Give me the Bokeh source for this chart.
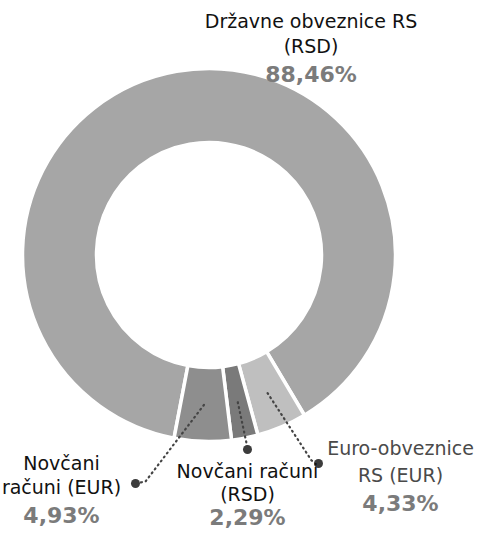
import math
from bokeh.plotting import figure
from bokeh.models import Range1d, ColumnDataSource
from bokeh.core.properties import value
from bokeh.embed import file_html
from bokeh.resources import INLINE

# ---------------- data ----------------
categories = ["Državne obveznice RS\n(RSD)", "Euro-obveznice\nRS (EUR)",
              "Novčani računi\n(RSD)", "Novčani\nračuni (EUR)"]
shares = [88.46, 4.33, 2.29, 4.93]
share_labels = ["88,46%", "4,33%", "2,29%", "4,93%"]
colors = ["#a6a6a6", "#bfbfbf", "#7a7a7a", "#8e8e8e"]
label_colors = ["#111111", "#4a4a4a", "#111111", "#111111"]

# ---------------- layout (window pixel coords, y down) ----------------
W, H = 478, 532
CX, CY = 216.5, 262.5
R_OUT, R_IN = 185.0, 114.0
START_DEG = 259.2  # start angle, going clockwise

def Y(y_img):
    return 548 - y_img

p = figure(width=W, height=H, output_backend="svg", toolbar_location=None,
           x_range=Range1d(8, 8 + W), y_range=Range1d(8, 8 + H),
           min_border=0, outline_line_color=None)
p.axis.visible = False
p.grid.visible = False
p.background_fill_color = "white"
p.border_fill_color = "white"

total = sum(shares)
starts, ends, mids = [], [], []
a = START_DEG
for s in shares:
    span = s / total * 360.0
    starts.append(math.radians(a))
    ends.append(math.radians(a - span))
    mids.append(math.radians(a - span / 2))
    a -= span

src = ColumnDataSource(dict(x=[CX] * len(shares), y=[Y(CY)] * len(shares),
                            start=starts, end=ends, color=colors))
p.annular_wedge(x="x", y="y", inner_radius=R_IN - 1.5, outer_radius=R_OUT + 1.5,
                start_angle="start", end_angle="end", direction="clock",
                fill_color="color", line_color="white", line_width=3.5, source=src)

# connectors for the small slices (index -> elbow, dot) in window coords
connectors = {
    1: [(319, 468), (326, 471)],
    2: [(254.5, 453), (255, 457)],
    3: [(153, 489), (143, 491)],
}
R_MID = 150
for i, pts in connectors.items():
    sx = CX + R_MID * math.cos(mids[i])
    sy = Y(CY) + R_MID * math.sin(mids[i])
    xs = [sx] + [q[0] for q in pts]
    ys = [sy] + [Y(q[1]) for q in pts]
    p.line(xs, ys, line_color="#444444", line_width=2.2, line_dash="1 4",
           line_cap="round")
    p.scatter([pts[-1][0]], [Y(pts[-1][1])], size=9, fill_color="#3c3c3c",
              line_color=None)

# label anchors: center x, first baseline, line spacing, pct baseline (window coords)
anchors = [(318.5, 28, 25, 82), (408, 455, 27, 511), (255, 478, 23, 525), (69, 470, 24, 523)]
for i, cat in enumerate(categories):
    cx, b1, dy, pb = anchors[i]
    lines = cat.split("\n")
    for k, ln in enumerate(lines):
        p.text([cx], [Y(b1 + k * dy)], text=[ln], text_align="center",
               text_baseline="alphabetic", text_font=value("DejaVu Sans"),
               text_font_size="19px", text_color=label_colors[i])
    p.text([cx], [Y(pb)], text=[share_labels[i]], text_align="center",
           text_baseline="alphabetic", text_font=value("DejaVu Sans"),
           text_font_size="22px", text_font_style="bold", text_color="#7b7b7b")

open("out.html", "w").write(file_html(p, INLINE))
